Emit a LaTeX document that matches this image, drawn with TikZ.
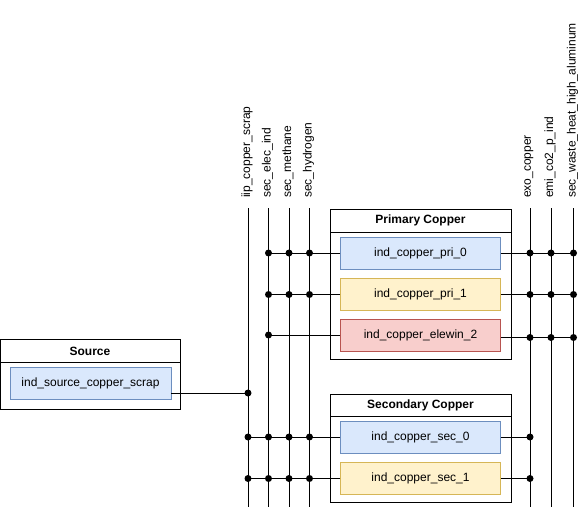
\documentclass[tikz,border=0pt]{standalone}
\usepackage{fontspec}
\setmainfont{Liberation Sans}
\usetikzlibrary{calc}
\definecolor{bluef}{HTML}{DAE8FC}\definecolor{blued}{HTML}{6C8EBF}
\definecolor{yelf}{HTML}{FFF2CC}\definecolor{yeld}{HTML}{D6B656}
\definecolor{redf}{HTML}{F8CECC}\definecolor{redd}{HTML}{B85450}
\tikzset{
  every node/.style={font=\fontsize{12}{14}\selectfont},
  container/.style={draw, fill=white, line width=0.8pt, anchor=north west, inner sep=0},
  title/.style={font=\fontsize{12}{14}\selectfont\bfseries, inner sep=0},
  proc/.style={draw, minimum width=160pt, minimum height=32pt, inner sep=0, line width=0.8pt},
  pblue/.style={proc, fill=bluef, draw=blued},
  pyel/.style={proc, fill=yelf, draw=yeld},
  pred/.style={proc, fill=redf, draw=redd},
  bus/.style={line width=0.8pt},
  buslabel/.style={rotate=90, anchor=west, inner sep=0},
  conn/.style={line width=0.8pt},
  dot/.style={circle, fill=black, inner sep=0, minimum size=7pt}
}
\begin{document}
\begin{tikzpicture}[x=1pt,y=-1pt]
\useasboundingbox (0,0) rectangle (587,512);
% bus lines
\foreach \n/\x/\t in {iip/248/iip\_copper\_scrap, elec/268.5/sec\_elec\_ind, meth/289/sec\_methane, hyd/309.5/sec\_hydrogen, exo/530/exo\_copper, emi/551/emi\_co2\_p\_ind, waste/573.5/sec\_waste\_heat\_high\_aluminum}{
  \coordinate (\n T) at (\x,208);
  \coordinate (\n B) at (\x,507);
  \node[buslabel] (\n L) at (\x-1,198) {\t};
  \draw[bus] (\n T) -- (\n B);
}
% Primary Copper
\node[container, minimum width=181pt, minimum height=150pt] (pc) at (330,209) {};
\node[title] (pct) at (420.5,220.5) {Primary Copper};
\draw[line width=0.8pt] ([yshift=-23pt]pc.north west) -- ([yshift=-23pt]pc.north east);
\node[pblue] (pri0) at (420.5,253) {ind\_copper\_pri\_0};
\node[pyel] (pri1) at (420.5,294.5) {ind\_copper\_pri\_1};
\node[pred] (elw) at (420.5,335) {ind\_copper\_elewin\_2};
% Source
\node[container, minimum width=180pt, minimum height=70pt] (sc) at (0,339) {};
\node[title] (sct) at (90,351) {Source};
\draw[line width=0.8pt] ([yshift=-23pt]sc.north west) -- ([yshift=-23pt]sc.north east);
\node[pblue, minimum width=161pt] (src) at (90.5,383) {ind\_source\_copper\_scrap};
% Secondary Copper
\node[container, minimum width=181pt, minimum height=108pt] (scc) at (330,394) {};
\node[title] (scct) at (420.5,405) {Secondary Copper};
\draw[line width=0.8pt] ([yshift=-22pt]scc.north west) -- ([yshift=-22pt]scc.north east);
\node[pblue] (sec0) at (420.5,437) {ind\_copper\_sec\_0};
\node[pyel] (sec1) at (420.5,478.5) {ind\_copper\_sec\_1};
% connections
\coordinate (srcE) at ([yshift=-10pt]src.east);
\draw[conn] (srcE) -- (srcE -| iipT);
\node[dot] at (srcE -| iipT) {};
\foreach \p in {pri0,pri1}{
  \draw[conn] (\p.west) -- (\p.west -| elecT);
  \foreach \b in {elec,meth,hyd} \node[dot] at (\p.west -| \b T) {};
  \draw[conn] (\p.east) -- (\p.east -| wasteT);
  \foreach \b in {exo,emi,waste} \node[dot] at (\p.east -| \b T) {};
}
\draw[conn] (elw.west) -- (elw.west -| elecT);
\node[dot] at (elw.west -| elecT) {};
\coordinate (elwE) at ([yshift=-2.5pt]elw.east);
\draw[conn] (elwE) -- (elwE -| wasteT);
\foreach \b in {exo,emi,waste} \node[dot] at (elwE -| \b T) {};
\foreach \p in {sec0,sec1}{
  \draw[conn] (\p.west) -- (\p.west -| iipT);
  \foreach \b in {iip,elec,meth,hyd} \node[dot] at (\p.west -| \b T) {};
  \draw[conn] (\p.east) -- (\p.east -| exoT);
  \node[dot] at (\p.east -| exoT) {};
}
\end{tikzpicture}
\end{document}
